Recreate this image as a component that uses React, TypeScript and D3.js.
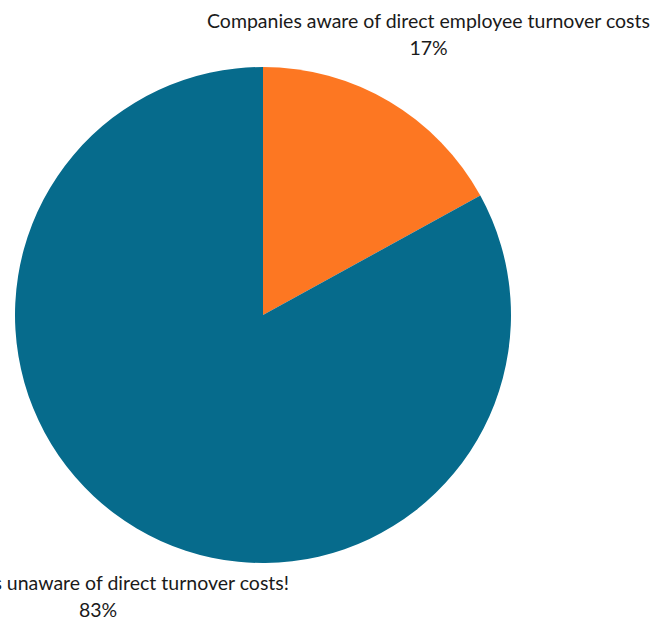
import React from "react";
import * as d3 from "d3";

const categories = ["Companies aware of direct employee turnover costs", "Companies unaware of direct turnover costs!"];
const values = [17, 83];
const valueLabels = ["17%", "83%"];
const colors = ["#FD7722", "#066B8C"];

export default function App() {
  const W = 656, H = 621;
  const cx = 263, cy = 315, r = 248;
  const pie = d3.pie<number>().sort(null).value((d) => d)(values);
  const arc = d3.arc<d3.PieArcDatum<number>>().innerRadius(0).outerRadius(r);
  const labelPos = [
    { x: 428.5, y: 28 },
    { x: 98, y: 590 },
  ];
  return (
    <svg width={W} height={H} style={{ position: "absolute", left: 0, top: 0, fontFamily: "Lato", background: "#fff" }}>
      <g transform={`translate(${cx},${cy})`}>
        {pie.map((p, i) => (
          <path key={i} d={arc(p) || ""} fill={colors[i]} />
        ))}
      </g>
      {categories.map((c, i) => (
        <g key={c}>
          <text x={labelPos[i].x} y={labelPos[i].y} textAnchor="middle" fontSize={19.5} fill="#1a1a1a">{c}</text>
          <text x={labelPos[i].x} y={labelPos[i].y + 27} textAnchor="middle" fontSize={19.5} fill="#1a1a1a">{valueLabels[i]}</text>
        </g>
      ))}
    </svg>
  );
}
